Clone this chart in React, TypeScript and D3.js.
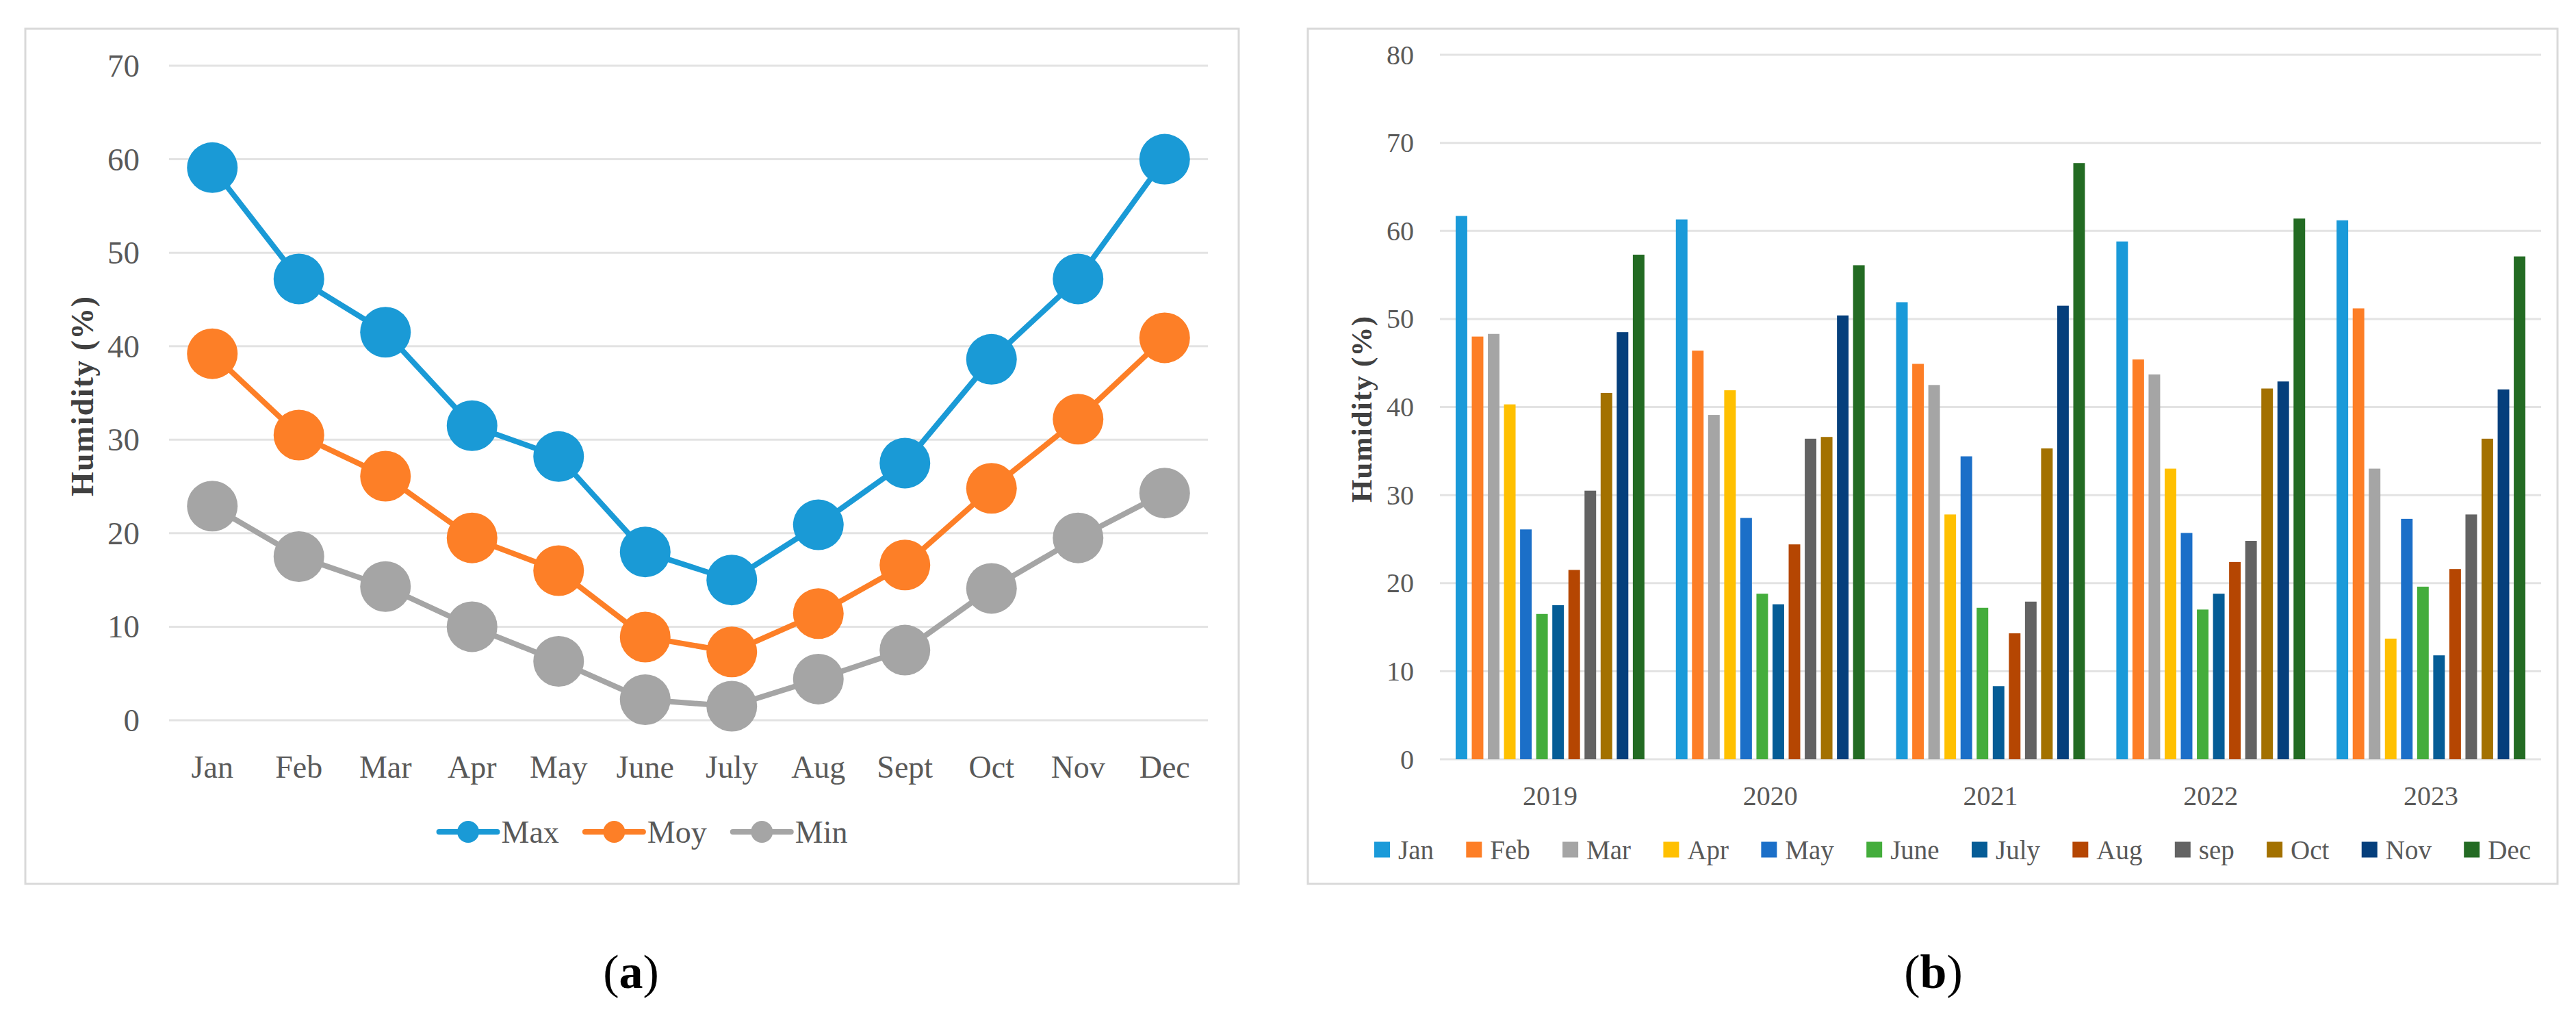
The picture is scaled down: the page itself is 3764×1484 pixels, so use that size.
import React from 'react';
import * as d3 from 'd3';

// panel (a) - monthly humidity
const months = ['Jan', 'Feb', 'Mar', 'Apr', 'May', 'June', 'July', 'Aug', 'Sept', 'Oct', 'Nov', 'Dec'];
const maxValues = [59.1, 47.2, 41.5, 31.5, 28.2, 18.0, 15.0, 20.9, 27.5, 38.6, 47.2, 60.0];
const moyValues = [39.2, 30.5, 26.1, 19.5, 16.0, 8.9, 7.3, 11.4, 16.6, 24.8, 32.2, 40.9];
const minValues = [22.9, 17.5, 14.3, 10.0, 6.3, 2.2, 1.5, 4.4, 7.5, 14.1, 19.5, 24.3];
const lineSeriesNames = ['Max', 'Moy', 'Min'];
const lineColors = ['#1a9ad6', '#fd7f27', '#a5a5a5'];
const ticksA = [0, 10, 20, 30, 40, 50, 60, 70];

// panel (b) - yearly humidity by month
const years = ['2019', '2020', '2021', '2022', '2023'];
const barMonths = ['Jan', 'Feb', 'Mar', 'Apr', 'May', 'June', 'July', 'Aug', 'sep', 'Oct', 'Nov', 'Dec'];
const values2019 = [61.7, 48.0, 48.3, 40.3, 26.1, 16.5, 17.5, 21.5, 30.5, 41.6, 48.5, 57.3];
const values2020 = [61.3, 46.4, 39.1, 41.9, 27.4, 18.8, 17.6, 24.4, 36.4, 36.6, 50.4, 56.1];
const values2021 = [51.9, 44.9, 42.5, 27.8, 34.4, 17.2, 8.3, 14.3, 17.9, 35.3, 51.5, 67.7];
const values2022 = [58.8, 45.4, 43.7, 33.0, 25.7, 17.0, 18.8, 22.4, 24.8, 42.1, 42.9, 61.4];
const values2023 = [61.2, 51.2, 33.0, 13.7, 27.3, 19.6, 11.8, 21.6, 27.8, 36.4, 42.0, 57.1];
const barColors = ['#1a9ad9', '#fd7e26', '#a5a5a5', '#ffc000', '#1b6fc8', '#44ad3c',
  '#055c96', '#b54602', '#636363', '#a37100', '#053f7c', '#236b23'];
const ticksB = [0, 10, 20, 30, 40, 50, 60, 70, 80];

const FONT = '"Palatino Linotype", "Book Antiqua", Palatino, "URW Palladio L", P052, "Liberation Serif", serif';
const TEXT = '#595959';
const GRID = '#e3e3e3';
const BORDER = '#d9d9d9';

let ctx = null;
const measure = (text, size, weight = 'normal') => {
  if (!ctx) ctx = document.createElement('canvas').getContext('2d');
  ctx.font = `${weight} ${size}px ${FONT}`;
  return ctx.measureText(text).width;
};

const LineChart = () => {
  const x = d3.scaleBand().domain(months).range([247, 1765]);
  const y = d3.scaleLinear().domain([0, 70]).range([1052, 96]);
  const cx = (m) => x(m) + x.bandwidth() / 2;
  const series = [maxValues, moyValues, minValues];
  const line = d3.line().x((d, i) => cx(months[i])).y(d => y(d));

  // legend layout
  const legSize = 46;
  const lineLen = 85;
  const legGap = 38;
  const widths = lineSeriesNames.map(n => lineLen + 6 + measure(n, legSize));
  const total = d3.sum(widths) + legGap * (widths.length - 1);
  let lx = 940 - total / 2;
  const legendX = widths.map(w => { const v = lx; lx += w + legGap; return v; });

  return (
    <g>
      <rect x={37} y={42} width={1773} height={1249} fill="#fff" stroke={BORDER} strokeWidth={3} />
      {ticksA.map(t => (
        <g key={t}>
          <line x1={247} x2={1765} y1={y(t)} y2={y(t)} stroke={GRID} strokeWidth={3} />
          <text x={204} y={y(t)} textAnchor="end" dominantBaseline="central" fontSize={47} fill={TEXT}>{t}</text>
        </g>
      ))}
      {months.map(m => (
        <text key={m} x={cx(m)} y={1120} textAnchor="middle" dominantBaseline="central" fontSize={46} fill={TEXT}>{m}</text>
      ))}
      <text transform={`translate(120,579) rotate(-90)`} textAnchor="middle" dominantBaseline="central"
        fontSize={46} fontWeight="bold" fill="#404040" textLength={292} lengthAdjust="spacing">Humidity (%)</text>
      {series.map((s, k) => (
        <g key={k}>
          <path d={line(s)} fill="none" stroke={lineColors[k]} strokeWidth={8} />
          {s.map((v, i) => (
            <circle key={i} cx={cx(months[i])} cy={y(v)} r={37} fill={lineColors[k]} />
          ))}
        </g>
      ))}
      {lineSeriesNames.map((n, k) => (
        <g key={n} transform={`translate(${legendX[k]},1215)`}>
          <line x1={0} x2={lineLen} y1={0} y2={0} stroke={lineColors[k]} strokeWidth={8} strokeLinecap="round" />
          <circle cx={lineLen / 2} cy={0} r={16} fill={lineColors[k]} />
          <text x={lineLen + 6} y={0} dominantBaseline="central" fontSize={legSize} fill={TEXT}>{n}</text>
        </g>
      ))}
    </g>
  );
};

const BarChart = () => {
  const data = [values2019, values2020, values2021, values2022, values2023];
  const x0 = d3.scaleBand().domain(years).range([2104, 3713]);
  const x1 = d3.scaleBand().domain(barMonths).range([0, x0.bandwidth()]).paddingInner(0.28).paddingOuter(0.976);
  const y = d3.scaleLinear().domain([0, 80]).range([1109, 80]);

  // legend layout
  const legSize = 39;
  const sq = 23;
  const widths = barMonths.map(m => sq + 12 + measure(m, legSize));
  const span = 3698 - 2008;
  const gap = (span - d3.sum(widths)) / (widths.length - 1);
  let lx = 2008;
  const legendX = widths.map(w => { const v = lx; lx += w + gap; return v; });

  return (
    <g>
      <rect x={1911} y={42} width={1826} height={1249} fill="#fff" stroke={BORDER} strokeWidth={3} />
      {ticksB.map(t => (
        <g key={t}>
          <line x1={2104} x2={3713} y1={y(t)} y2={y(t)} stroke={GRID} strokeWidth={3} />
          <text x={2066} y={y(t)} textAnchor="end" dominantBaseline="central" fontSize={40} fill={TEXT}>{t}</text>
        </g>
      ))}
      {years.map((yr, j) => (
        <g key={yr} transform={`translate(${x0(yr)},0)`}>
          {data[j].map((v, i) => (
            <rect key={i} x={x1(barMonths[i])} y={y(v)} width={x1.bandwidth()} height={y(0) - y(v)} fill={barColors[i]} />
          ))}
          <text x={x0.bandwidth() / 2} y={1162} textAnchor="middle" dominantBaseline="central" fontSize={40} fill={TEXT}>{yr}</text>
        </g>
      ))}
      <text transform={`translate(1989,598) rotate(-90)`} textAnchor="middle" dominantBaseline="central"
        fontSize={43} fontWeight="bold" fill="#404040" textLength={272} lengthAdjust="spacing">Humidity (%)</text>
      {barMonths.map((m, i) => (
        <g key={m} transform={`translate(${legendX[i]},1241)`}>
          <rect x={0} y={-sq / 2} width={sq} height={sq} fill={barColors[i]} />
          <text x={sq + 12} y={0} dominantBaseline="central" fontSize={legSize} fill={TEXT}>{m}</text>
        </g>
      ))}
    </g>
  );
};

const App = () => (
  <svg width={3764} height={1484} fontFamily={FONT}
    style={{ position: 'absolute', left: 0, top: 0, display: 'block', background: '#fff' }}>
    <rect width={3764} height={1484} fill="#fff" />
    <LineChart />
    <BarChart />
    <text x={922} y={1443} textAnchor="middle" fontSize={70} fill="#000">(<tspan fontWeight="bold">a</tspan>)</text>
    <text x={2825} y={1443} textAnchor="middle" fontSize={70} fill="#000">(<tspan fontWeight="bold">b</tspan>)</text>
  </svg>
);

export default App;
